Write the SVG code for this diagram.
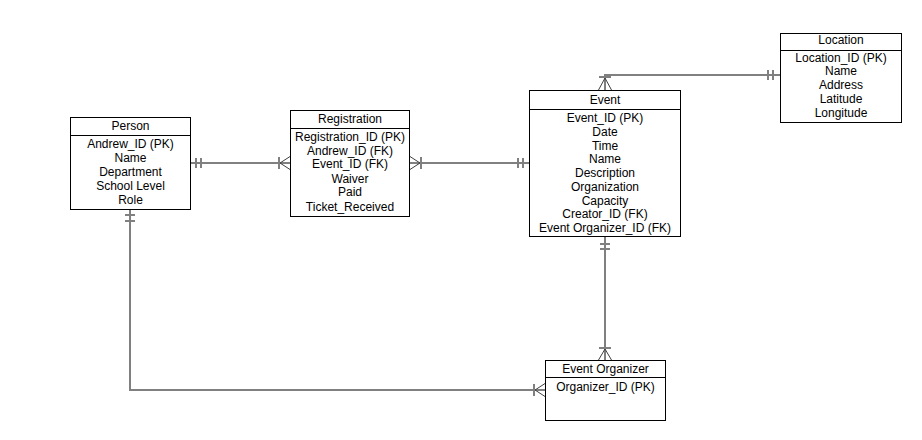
<svg xmlns="http://www.w3.org/2000/svg" width="922" height="440" viewBox="0 0 922 440">
  <style>
    .box { fill: #ffffff; stroke: #000000; stroke-width: 1; }
    .sep { stroke: #000000; stroke-width: 1; }
    text { font-family: "Liberation Sans", Arial, sans-serif; font-size: 12px; fill: #000000; text-anchor: middle; }
    .rel { fill: none; stroke: #808080; stroke-width: 2; }
    .mark { fill: none; stroke: #808080; stroke-width: 2; }
    .crow { fill: none; stroke: #404040; stroke-width: 1; }
  </style>
  <rect width="922" height="440" fill="#ffffff"/>

  <!-- relationship lines -->
  <g id="connectors">
    <!-- Person (one) to Registration (many) -->
    <line class="rel" x1="190" y1="163" x2="290" y2="163"/>
    <line class="mark" x1="196" y1="158" x2="196" y2="168"/>
    <line class="mark" x1="201" y1="158" x2="201" y2="168"/>
    <line class="mark" x1="279" y1="157" x2="279" y2="169"/>
    <polyline class="crow" points="290,156.5 280,163 290,169.5"/>

    <!-- Registration (many) to Event (one) -->
    <line class="rel" x1="410" y1="163" x2="530" y2="163"/>
    <line class="mark" x1="421" y1="157" x2="421" y2="169"/>
    <polyline class="crow" points="410,156.5 420,163 410,169.5"/>
    <line class="mark" x1="518" y1="158" x2="518" y2="168"/>
    <line class="mark" x1="523" y1="158" x2="523" y2="168"/>

    <!-- Location (one) to Event (many) -->
    <polyline class="rel" points="780,75 605,75 605,90"/>
    <line class="mark" x1="768" y1="70" x2="768" y2="80"/>
    <line class="mark" x1="773" y1="70" x2="773" y2="80"/>
    <line class="mark" x1="599" y1="77" x2="611" y2="77"/>
    <polyline class="crow" points="598.5,90 605,78 611.5,90"/>

    <!-- Event (one) to Event Organizer (many) -->
    <line class="rel" x1="605" y1="237" x2="605" y2="360"/>
    <line class="mark" x1="600" y1="244" x2="610" y2="244"/>
    <line class="mark" x1="600" y1="249" x2="610" y2="249"/>
    <line class="mark" x1="599" y1="348" x2="611" y2="348"/>
    <polyline class="crow" points="598.5,360 605,349 611.5,360"/>

    <!-- Person (one) to Event Organizer (many) -->
    <polyline class="rel" points="130,209 130,390 545,390"/>
    <line class="mark" x1="125" y1="215" x2="135" y2="215"/>
    <line class="mark" x1="125" y1="221" x2="135" y2="221"/>
    <line class="mark" x1="534" y1="384" x2="534" y2="396"/>
    <polyline class="crow" points="545,383.5 535,390 545,396.5"/>
  </g>

  <!-- Person entity -->
  <g id="person">
    <rect class="box" x="70.5" y="117.5" width="120" height="92"/>
    <line class="sep" x1="70.5" y1="135.5" x2="190.5" y2="135.5"/>
    <text x="130.5" y="129.5">Person</text>
    <text x="130.5" y="147.5">Andrew_ID (PK)</text>
    <text x="130.5" y="161.5">Name</text>
    <text x="130.5" y="175.5">Department</text>
    <text x="130.5" y="189.5">School Level</text>
    <text x="130.5" y="203.5">Role</text>
  </g>

  <!-- Registration entity -->
  <g id="registration">
    <rect class="box" x="290.5" y="110.5" width="119" height="106"/>
    <line class="sep" x1="290.5" y1="128.5" x2="409.5" y2="128.5"/>
    <text x="350" y="123">Registration</text>
    <text x="350" y="140.5">Registration_ID (PK)</text>
    <text x="350" y="154.5">Andrew_ID (FK)</text>
    <text x="350" y="168">Event_ID (FK)</text>
    <text x="350" y="182.5">Waiver</text>
    <text x="350" y="196">Paid</text>
    <text x="350" y="210.5">Ticket_Received</text>
  </g>

  <!-- Event entity -->
  <g id="event">
    <rect class="box" x="529.5" y="90.5" width="151" height="146"/>
    <line class="sep" x1="529.5" y1="109.5" x2="680.5" y2="109.5"/>
    <text x="605" y="103.5">Event</text>
    <text x="605" y="122">Event_ID (PK)</text>
    <text x="605" y="135.5">Date</text>
    <text x="605" y="149.5">Time</text>
    <text x="605" y="163">Name</text>
    <text x="605" y="177">Description</text>
    <text x="605" y="190.5">Organization</text>
    <text x="605" y="204.5">Capacity</text>
    <text x="605" y="218">Creator_ID (FK)</text>
    <text x="605" y="232">Event Organizer_ID (FK)</text>
  </g>

  <!-- Location entity -->
  <g id="location">
    <rect class="box" x="780.5" y="33.5" width="121" height="89"/>
    <line class="sep" x1="780.5" y1="50.5" x2="901.5" y2="50.5"/>
    <text x="841" y="43.5">Location</text>
    <text x="841" y="61.5">Location_ID (PK)</text>
    <text x="841" y="75">Name</text>
    <text x="841" y="89">Address</text>
    <text x="841" y="103">Latitude</text>
    <text x="841" y="116.5">Longitude</text>
  </g>

  <!-- Event Organizer entity -->
  <g id="event-organizer">
    <rect class="box" x="545.5" y="360.5" width="120" height="60"/>
    <line class="sep" x1="545.5" y1="377.5" x2="665.5" y2="377.5"/>
    <text x="605.5" y="372.5">Event Organizer</text>
    <text x="605.5" y="390.5">Organizer_ID (PK)</text>
  </g>
</svg>
